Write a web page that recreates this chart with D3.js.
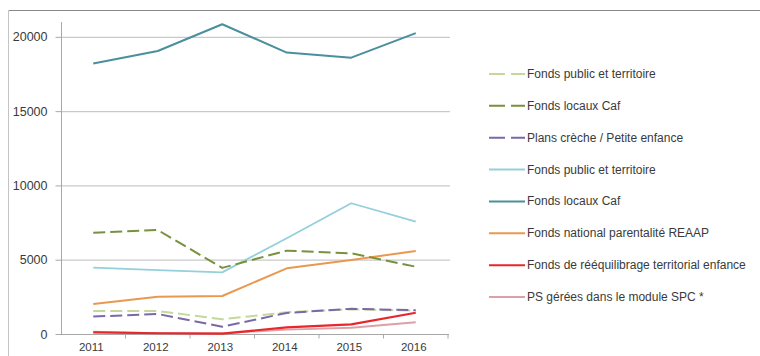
<!DOCTYPE html>
<html>
<head>
<meta charset="utf-8">
<script src="https://cdn.jsdelivr.net/npm/d3@7"></script>
<style>
  html, body { margin: 0; padding: 0; background: #fff; }
  svg { display: block; font-family: "Liberation Sans", Arial, sans-serif; }
</style>
</head>
<body>
<svg id="chart" width="760" height="356"></svg>
<script>
// Years on the x axis
const years = ["2011", "2012", "2013", "2014", "2015", "2016"];

// Series values per year
const fondsPublicDashed   = [1550, 1550, 990, 1460, 1660, 1570];
const fondsLocauxDashed   = [6820, 7000, 4450, 5610, 5430, 4530];
const plansCreche         = [1170, 1350, 490, 1420, 1700, 1600];
const fondsPublicSolid    = [4470, 4300, 4150, 6450, 8800, 7560];
const fondsLocauxSolid    = [18200, 19050, 20850, 18940, 18600, 20250];
const fondsReaap          = [2020, 2510, 2560, 4420, 4980, 5590];
const fondsReequilibrage  = [110, 50, 30, 450, 650, 1430];
const psSpc               = [150, 60, 40, 300, 420, 790];

// Y tick labels
const yTicks = [0, 5000, 10000, 15000, 20000];

// Legend order and styling
const seriesNames = [
  "Fonds public et territoire",
  "Fonds locaux Caf",
  "Plans crèche / Petite enfance",
  "Fonds public et territoire",
  "Fonds locaux Caf",
  "Fonds national parentalité REAAP",
  "Fonds de rééquilibrage territorial enfance",
  "PS gérées dans le module SPC *"
];
const seriesValues = [
  fondsPublicDashed, fondsLocauxDashed, plansCreche, fondsPublicSolid,
  fondsLocauxSolid, fondsReaap, fondsReequilibrage, psSpc
];
const seriesColors = ["#c5d89c", "#78913f", "#7a68a8", "#93d0dc", "#4a8f9e", "#e9984e", "#e8262b", "#dca0a6"];
const seriesDashed = [true, true, true, false, false, false, false, false];
const seriesWidth  = [2, 2, 2, 1.8, 2, 2, 2.2, 1.8];

const series = seriesNames.map((name, i) => ({
  name, values: seriesValues[i], color: seriesColors[i], dashed: seriesDashed[i], width: seriesWidth[i]
}));

const svg = d3.select("#chart");

// Outer frame (top and left edges)
svg.append("line").attr("x1", 8).attr("x2", 760).attr("y1", 10.5).attr("y2", 10.5)
  .attr("stroke", "#8a8a8a").attr("stroke-width", 1.2);
svg.append("line").attr("x1", 8.5).attr("x2", 8.5).attr("y1", 10).attr("y2", 356)
  .attr("stroke", "#c4c4c4").attr("stroke-width", 1);

const x = d3.scaleBand().domain(years).range([61, 448]);
const y = d3.scaleLinear().domain([0, 21000]).range([334, 22]);

// Horizontal gridlines
svg.append("g").selectAll("line")
  .data(yTicks.filter(d => d > 0))
  .join("line")
  .attr("x1", 61).attr("x2", 450)
  .attr("y1", d => y(d) + 0.5).attr("y2", d => y(d) + 0.5)
  .attr("stroke", "#c9c9c9").attr("stroke-width", 1.2);

// Y axis
const yAxis = svg.append("g").attr("transform", "translate(61.5,0)")
  .call(d3.axisLeft(y).tickValues(yTicks).tickSize(6).tickPadding(8).tickFormat(d3.format("d")));
yAxis.select(".domain").attr("stroke", "#a8a8a8").attr("d", `M0,${y(21000)}V${y(0)}`);
yAxis.selectAll(".tick line").attr("stroke", "#a8a8a8");
yAxis.selectAll(".tick text").attr("fill", "#3a3a3a").attr("font-size", 12.5);

// X axis with tick marks between categories
const xAxisG = svg.append("g").attr("transform", `translate(0,${y(0) + 0.5})`);
xAxisG.append("line").attr("x1", 61).attr("x2", 449).attr("stroke", "#a8a8a8").attr("stroke-width", 1.2);
const boundaries = years.map(yr => x(yr) + x.bandwidth());
xAxisG.selectAll("line.tk").data(boundaries).join("line").attr("class", "tk")
  .attr("x1", d => d).attr("x2", d => d).attr("y1", 0).attr("y2", 4)
  .attr("stroke", "#a8a8a8");
xAxisG.selectAll("text").data(years).join("text")
  .attr("x", d => x(d) + x.bandwidth() / 2 - 2)
  .attr("y", 16)
  .attr("text-anchor", "middle")
  .attr("font-size", 11.5).attr("fill", "#3a3a3a")
  .text(d => d);

// Lines
const line = d3.line()
  .x((d, i) => x(years[i]) + x.bandwidth() / 2)
  .y(d => y(d));

const drawOrder = [7, 6, 5, 3, 4, 0, 2, 1];
svg.append("g").selectAll("path")
  .data(drawOrder.map(i => series[i]))
  .join("path")
  .attr("d", d => line(d.values))
  .attr("fill", "none")
  .attr("stroke", d => d.color)
  .attr("stroke-width", d => d.width)
  .attr("stroke-dasharray", d => d.dashed ? "12,5" : null)
  .attr("stroke-linejoin", "round");

// Legend
const legend = svg.append("g");
const legendY = d3.scalePoint().domain(d3.range(series.length)).range([74, 297]);
const items = legend.selectAll("g").data(series).join("g")
  .attr("transform", (d, i) => `translate(489,${legendY(i)})`);
items.append("line")
  .attr("x1", 0).attr("x2", 36).attr("y1", 0).attr("y2", 0)
  .attr("stroke", d => d.color).attr("stroke-width", 2)
  .attr("stroke-dasharray", d => d.dashed ? "16,6" : null);
items.append("text")
  .attr("x", 38).attr("y", 4)
  .attr("font-size", 12).attr("fill", "#3a3a3a")
  .text(d => d.name);
</script>
</body>
</html>
